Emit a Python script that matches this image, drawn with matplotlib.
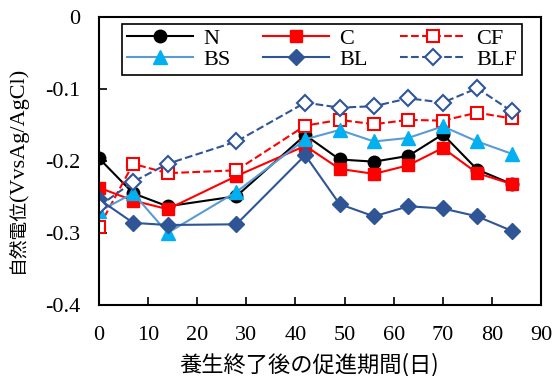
import matplotlib
matplotlib.use("Agg")
import matplotlib.pyplot as plt

# days after end of curing
days = [0, 7, 14, 28, 42, 49, 56, 63, 70, 77, 84]

# natural potential (V vs Ag/AgCl)
N   = [-0.196, -0.245, -0.263, -0.249, -0.164, -0.198, -0.201, -0.193, -0.163, -0.212, -0.232]
C   = [-0.237, -0.255, -0.267, -0.221, -0.179, -0.211, -0.218, -0.206, -0.182, -0.217, -0.232]
CF  = [-0.292, -0.204, -0.217, -0.213, -0.151, -0.143, -0.149, -0.143, -0.144, -0.133, -0.141]
BS  = [-0.270, -0.245, -0.300, -0.243, -0.170, -0.157, -0.173, -0.168, -0.152, -0.173, -0.190]
BL  = [-0.253, -0.286, -0.289, -0.288, -0.192, -0.260, -0.277, -0.263, -0.266, -0.277, -0.297]
BLF = [-0.263, -0.229, -0.204, -0.173, -0.119, -0.126, -0.124, -0.113, -0.119, -0.099, -0.131]

serif = "Liberation Serif"
jp = "Noto Sans CJK JP"

fig = plt.figure(figsize=(5.55, 3.76), dpi=100)
ax = fig.add_axes([0.178, 0.189, 0.797, 0.766])

ms = 9
lw = 1.5
dblue = "#2F5597"
ax.plot(days, N, "-o", color="black", lw=lw, ms=ms, label="N")
ax.plot(days, C, "-s", color="red", lw=lw, ms=ms, label="C")
ax.plot(days, CF, "--s", color="red", lw=lw, ms=ms, mfc="white", mew=1.5, label="CF")
ax.plot(days, BS, "-^", color="#5B9BD5", lw=lw, ms=ms + 1, mfc="#00B0F0", mec="#00B0F0", label="BS")
ax.plot(days, BL, "-D", color=dblue, lw=lw, ms=ms - 1, label="BL")
ax.plot(days, BLF, "--D", color=dblue, lw=lw, ms=ms - 1, mfc="white", mew=1.5, label="BLF")

ax.set_xlim(0, 90)
ax.set_ylim(-0.4, 0)
ax.set_xticks(range(0, 91, 10))
ax.set_yticks([-0.4, -0.3, -0.2, -0.1, 0])
ax.set_yticklabels(["-0.4", "-0.3", "-0.2", "-0.1", "0"])
ax.tick_params(direction="in", length=6, width=1.2, labelsize=16)
ax.tick_params(axis="x", pad=15)
ax.tick_params(axis="y", pad=13)
for lab in ax.get_xticklabels() + ax.get_yticklabels():
    lab.set_family(serif)
for s in ax.spines.values():
    s.set_linewidth(1.5)

# axis titles: japanese part in gothic, latin part in serif
fig.text(0.557, 0.030, "養生終了後の促進期間(日)", family=jp, fontsize=16,
         ha="center", va="center")
fig.text(0.031, 1 - 273 / 376, "自然電位", family=jp, fontsize=13.5,
         rotation=90, ha="center", va="bottom")
fig.text(0.034, 1 - 201 / 376, "(VvsAg/AgCl)", family=serif, fontsize=16,
         rotation=90, ha="center", va="bottom")

# legend filled row by row like the original
h, l = ax.get_legend_handles_labels()
order = [0, 3, 1, 4, 2, 5]
leg = ax.legend([h[i] for i in order], [l[i] for i in order], ncol=3,
                loc="upper left", bbox_to_anchor=(0.052, 0.806, 0.905, 0.17),
                mode="expand", prop={"family": serif, "size": 16},
                handlelength=3.0, handletextpad=0.45, labelspacing=0.0,
                borderpad=0.22, borderaxespad=0, fancybox=False, framealpha=1)
leg.get_frame().set_edgecolor("black")
leg.get_frame().set_linewidth(1.2)

fig.savefig("out.png", dpi=100)
